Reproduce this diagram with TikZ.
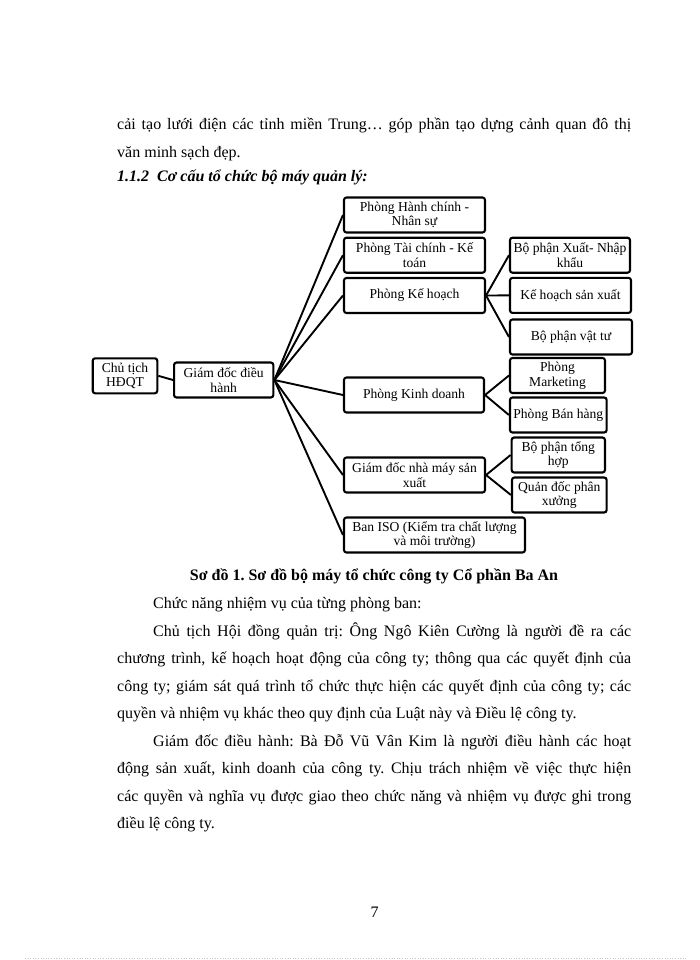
\documentclass[tikz,border=0pt]{standalone}
\usepackage{fontspec}
\setmainfont{Liberation Serif}
\frenchspacing
\newcommand{\boxfont}{\fontsize{13.6}{14.6}\selectfont}
\newcommand{\bodyfont}{\fontsize{16}{28}\selectfont}
\begin{document}
\begin{tikzpicture}[x=1pt, y=-1pt,
  unit/.style={draw, line width=2.1pt, rounded corners=2.5pt, align=center, inner sep=0pt, minimum height=35pt, font=\boxfont},
  link/.style={line width=1.9pt},
  txt/.style={anchor=base west, inner sep=0pt, font=\bodyfont}]
\useasboundingbox (0,0) rectangle (700,960);

% text above the chart
\node[txt] (l1) at (117,130) {\makebox[514pt][s]{cải tạo lưới điện các tỉnh miền Trung… góp phần tạo dựng cảnh quan đô thị}};
\node[txt] (l2) at (117,158) {văn minh sạch đẹp.};
\node[txt, font=\bodyfont\bfseries\itshape] (head) at (117,182) {1.1.2\ \ Cơ cấu tổ chức bộ máy quản lý:};

% chart boxes
\node[unit, minimum width=64.6pt] (ct) at (125,375.8) {Chủ tịch\\HĐQT};
\node[unit, minimum width=99.3pt] (gd) at (223.7,380) {Giám đốc điều\\hành};
\node[unit, minimum width=141pt] (hc) at (414.5,215) {Phòng Hành chính -\\Nhân sự};
\node[unit, minimum width=141pt] (tc) at (414.5,255.2) {Phòng Tài chính - Kế\\toán};
\node[unit, minimum width=141pt] (kh) at (414.5,295.5) {Phòng Kế hoạch};
\node[unit, minimum width=140pt] (kd) at (414,395) {Phòng Kinh doanh};
\node[unit, minimum width=141pt] (nm) at (414.5,475) {Giám đốc nhà máy sản\\xuất};
\node[unit, minimum width=181pt] (iso) at (434.5,535) {Ban ISO (Kiểm tra chất lượng\\và môi trường)};
\node[unit, minimum width=120pt] (xnk) at (570,255.2) {Bộ phận Xuất- Nhập\\khẩu};
\node[unit, minimum width=121pt] (khsx) at (570.5,295.4) {Kế hoạch sản xuất};
\node[unit, minimum width=122pt] (vt) at (571,337) {Bộ phận vật tư};
\node[unit, minimum width=95pt] (mk) at (557.5,375.5) {Phòng\\Marketing};
\node[unit, minimum width=96.7pt] (bh) at (558.3,415) {Phòng Bán hàng};
\node[unit, minimum width=93.3pt] (th) at (558.3,455) {Bộ phận tổng\\hợp};
\node[unit, minimum width=94.7pt] (qd) at (559.3,495) {Quản đốc phân\\xưởng};

% links
\draw[link] (ct.east) -- (gd.west);
\foreach \d in {hc,tc,kh,kd,nm,iso}
  \draw[link] (gd.east) -- (\d.west);
\foreach \d in {xnk,khsx,vt}
  \draw[link] (kh.east) -- (\d.west);
\draw[link] (kd.east) -- (mk.west);
\draw[link] (kd.east) -- (bh.west);
\draw[link] (nm.east) -- (th.west);
\draw[link] (nm.east) -- (qd.west);

% caption and text below
\node[anchor=base, inner sep=0pt, font=\bodyfont\bfseries] (cap) at (374,580) {Sơ đồ 1. Sơ đồ bộ máy tổ chức công ty Cổ phần Ba An};
\node[txt] (p1) at (153,608) {Chức năng nhiệm vụ của từng phòng ban:};
\node[txt] (p2) at (153,636) {\makebox[478pt][s]{Chủ tịch Hội đồng quản trị: Ông Ngô Kiên Cường là người đề ra các}};
\node[txt] (p3) at (117,663.5) {\makebox[514pt][s]{chương trình, kế hoạch hoạt động của công ty; thông qua các quyết định của}};
\node[txt] (p4) at (117,691) {\makebox[514pt][s]{công ty; giám sát quá trình tổ chức thực hiện các quyết định của công ty; các}};
\node[txt] (p5) at (117,718.5) {quyền và nhiệm vụ khác theo quy định của Luật này và Điều lệ công ty.};
\node[txt] (p6) at (153,746) {\makebox[478pt][s]{Giám đốc điều hành: Bà Đỗ Vũ Vân Kim là người điều hành các hoạt}};
\node[txt] (p7) at (117,773.5) {\makebox[514pt][s]{động sản xuất, kinh doanh của công ty. Chịu trách nhiệm về việc thực hiện}};
\node[txt] (p8) at (117,801) {\makebox[514pt][s]{các quyền và nghĩa vụ được giao theo chức năng và nhiệm vụ được ghi trong}};
\node[txt] (p9) at (117,828.5) {điều lệ công ty.};

% page number and page edge
\node[anchor=base, inner sep=0pt, font=\bodyfont] (pg) at (374.5,917) {7};
\draw[gray!45, dotted, line width=0.6pt] (25,958.5) -- (688,958.5);
\end{tikzpicture}
\end{document}
